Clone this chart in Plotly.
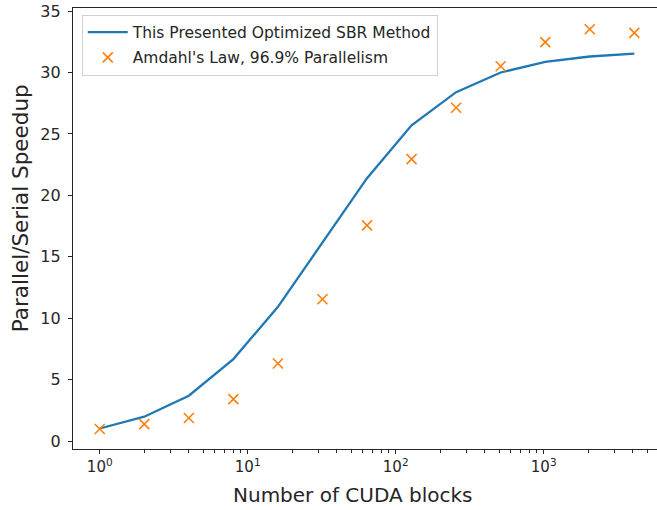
import plotly.graph_objects as go

blocks = [1, 2, 4, 8, 16, 32, 64, 128, 256, 512, 1024, 2048, 4096]
sbr_speedup = [1.02, 1.98, 3.69, 6.67, 10.92, 16.15, 21.4, 25.7, 28.4, 30.0, 30.87, 31.3, 31.54]
amdahl_speedup = [0.98, 1.38, 1.87, 3.41, 6.31, 11.54, 17.56, 22.95, 27.13, 30.51, 32.47, 33.52, 33.22]

major_vals = [1, 10, 100, 1000]
major_text = ["10<sup>0</sup>", "10<sup>1</sup>", "10<sup>2</sup>", "10<sup>3</sup>"]
minor_vals = [m * d for d in [1, 10, 100, 1000] for m in range(2, 10)]
minor_vals = [v for v in minor_vals if v < 6000]
y_ticks = [0, 5, 10, 15, 20, 25, 30, 35]

x_title = "Number of CUDA blocks"
y_title = "Parallel/Serial Speedup"

FONT = "DejaVu Sans"
INK = "#262626"

fig = go.Figure()
fig.add_trace(go.Scatter(
    x=blocks, y=sbr_speedup, mode="lines",
    name="This Presented Optimized SBR Method", legendgroup="a",
    line=dict(color="#1f77b4", width=2.3),
))
fig.add_trace(go.Scatter(
    x=blocks, y=amdahl_speedup, mode="markers",
    name="Amdahl's Law, 96.9% Parallelism", legendgroup="b",
    marker=dict(symbol="x-thin", size=10, line=dict(color="#ff7f0e", width=1.6), color="#ff7f0e"),
))

fig.update_layout(
    width=657, height=510,
    margin=dict(l=73, r=0, t=8, b=61),
    paper_bgcolor="white", plot_bgcolor="white",
    font=dict(family=FONT, color=INK, size=15),
    showlegend=True,
    legend=dict(
        x=0.015, y=0.985, xanchor="left", yanchor="top",
        bgcolor="rgba(255,255,255,0.8)", bordercolor="#d0d0d0", borderwidth=1,
        font=dict(family=FONT, size=15.5, color=INK),
        tracegroupgap=2, itemwidth=40,
    ),
    xaxis=dict(
        type="log", range=[-0.1806, 3.7656],
        tickvals=major_vals, ticktext=major_text,
        ticks="outside", ticklen=4, tickwidth=1.2, tickcolor=INK,
        minor=dict(tickvals=minor_vals, ticks="outside", ticklen=2.5, tickwidth=1, tickcolor=INK, showgrid=False),
        showgrid=False, zeroline=False,
        showline=True, linecolor=INK, linewidth=1.3, mirror=True,
        tickfont=dict(size=15, family=FONT, color=INK),
    ),
    yaxis=dict(
        range=[-0.65, 35.25],
        tickvals=y_ticks,
        ticks="outside", ticklen=4, tickwidth=1.2, tickcolor=INK,
        ticklabelstandoff=4,
        showgrid=False, zeroline=False,
        showline=True, linecolor=INK, linewidth=1.3,
        tickfont=dict(size=16, family=FONT, color=INK),
    ),
    annotations=[
        dict(text=x_title, xref="paper", yref="paper", x=0.4795, y=-0.104,
             xanchor="center", yanchor="middle", showarrow=False,
             font=dict(size=20, family=FONT, color=INK)),
        dict(text=y_title, xref="paper", yref="paper", x=-0.0908, y=0.546,
             xanchor="center", yanchor="middle", textangle=-90, showarrow=False,
             font=dict(size=21.5, family=FONT, color=INK)),
    ],
)

fig.write_html("out.html")
